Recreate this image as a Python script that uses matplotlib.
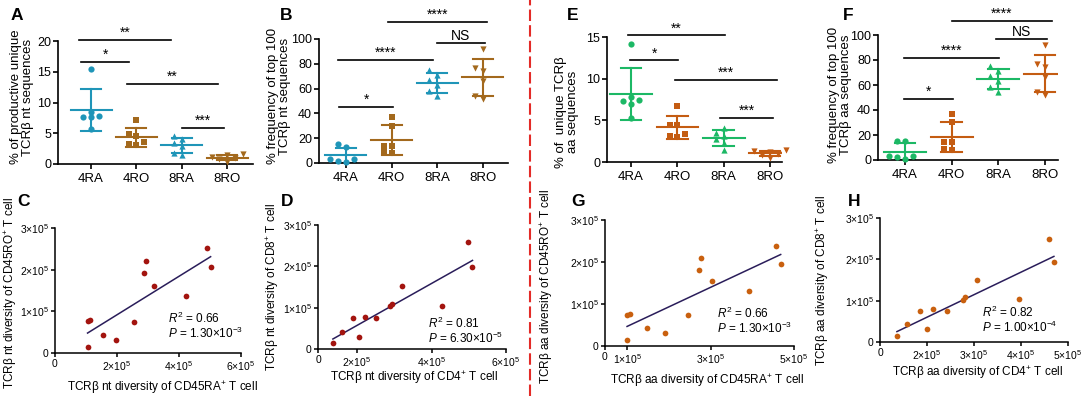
import numpy as np
import matplotlib.pyplot as plt
from matplotlib.lines import Line2D

plt.rcParams['font.family'] = ['Liberation Sans', 'DejaVu Sans']
plt.rcParams['mathtext.fontset'] = 'custom'
plt.rcParams['mathtext.rm'] = 'Liberation Sans'
plt.rcParams['mathtext.it'] = 'Liberation Sans:italic'
plt.rcParams['mathtext.bf'] = 'Liberation Sans:bold'

groups = ["4RA", "4RO", "8RA", "8RO"]

# panel A: % of productive unique TCRb nt sequences
unique_nt = [[15.5, 8.5, 7.7, 7.6, 7.8, 5.7],
             [7.2, 4.8, 4.5, 3.5, 3.1, 3.2],
             [4.6, 4.0, 3.4, 3.0, 1.8, 1.5],
             [1.6, 1.4, 1.1, 1.0, 0.8, 0.4]]
# panel B: % frequency of top 100 nt sequences
top100_nt = [[15, 13, 3, 1, 2, 3],
             [37, 30, 14, 14, 8, 9],
             [75, 71, 67, 63, 58, 54],
             [92, 77, 74, 66, 54, 52]]
# panel E: % of unique aa sequences
unique_aa = [[14.2, 7.8, 7.3, 7.0, 7.4, 5.3],
             [6.7, 4.5, 4.4, 3.4, 3.0, 3.1],
             [4.1, 3.5, 3.1, 2.8, 2.3, 1.5],
             [1.4, 1.3, 1.2, 1.0, 0.8, 0.5]]
# panel F: % frequency of top 100 aa sequences
top100_aa = [[15.5, 15.0, 3.5, 2.5, 3.5, 0.5],
             [37, 30, 14, 14, 8, 9],
             [75, 71, 67, 63, 58, 54],
             [92, 77, 74, 66, 54, 52]]

# significance bars: (x from, x to, y, label)
sig_A = [(-0.26, 1.77, 20.2, "**"), (-0.22, 0.84, 16.6, "*"),
         (0.79, 2.80, 13.0, "**"), (2.0, 2.94, 5.85, "***")]
sig_B = [(0.92, 3.09, 113.7, "****"), (1.99, 3.04, 96.8, "NS"),
         (-0.18, 1.90, 83.1, "****"), (-0.15, 1.03, 45.2, "*")]
sig_E = [(-0.06, 2.03, 15.2, "**"), (-0.02, 1.02, 12.2, "*"),
         (0.95, 3.15, 9.84, "***"), (1.92, 3.07, 5.28, "***")]
sig_F = [(1.0, 3.15, 111.2, "****"), (1.95, 3.04, 96.8, "NS"),
         (-0.02, 2.01, 81.6, "****"), (-0.02, 1.03, 48.8, "*")]

# scatter panels (diversity values)
C_x = [1.05e5, 1.07e5, 1.12e5, 1.56e5, 1.98e5, 2.55e5, 2.87e5, 2.92e5, 3.18e5, 4.22e5, 4.89e5, 5.02e5]
C_y = [0.14e5, 0.76e5, 0.79e5, 0.44e5, 0.31e5, 0.75e5, 1.91e5, 2.22e5, 1.62e5, 1.38e5, 2.52e5, 2.06e5]
D_x = [1.35e5, 1.59e5, 1.90e5, 2.04e5, 2.21e5, 2.51e5, 2.89e5, 2.93e5, 3.21e5, 4.27e5, 4.97e5, 5.10e5]
D_y = [0.14e5, 0.42e5, 0.74e5, 0.30e5, 0.78e5, 0.74e5, 1.04e5, 1.10e5, 1.53e5, 1.04e5, 2.60e5, 1.99e5]
G_x = [0.99e5, 0.99e5, 1.06e5, 1.46e5, 1.90e5, 2.46e5, 2.72e5, 2.76e5, 3.02e5, 3.93e5, 4.57e5, 4.68e5]
G_y = [0.15e5, 0.73e5, 0.77e5, 0.43e5, 0.31e5, 0.75e5, 1.82e5, 2.10e5, 1.55e5, 1.31e5, 2.38e5, 1.95e5]
H_x = [1.36e5, 1.58e5, 1.85e5, 1.99e5, 2.13e5, 2.42e5, 2.77e5, 2.80e5, 3.07e5, 3.96e5, 4.60e5, 4.70e5]
H_y = [0.14e5, 0.43e5, 0.75e5, 0.31e5, 0.79e5, 0.75e5, 1.01e5, 1.09e5, 1.50e5, 1.03e5, 2.50e5, 1.93e5]

W, H = 1084, 396

TEAL = "#1f95b8"
BROWN = "#a3691d"
GREEN = "#1cb865"
ORANGE = "#c45c12"
DARKRED = "#a3140f"
SC_ORANGE = "#c9600f"
LINE = "#2a1d5a"


def box(l, r, top, bot):
    return [l / W, 1 - bot / H, (r - l) / W, (bot - top) / H]


def ftext(px, py, s, **kw):
    fig.text(px / W, 1 - py / H, s, **kw)


def swarm(vals, span, step=0.17):
    vals = np.asarray(vals, float)
    off = np.zeros(len(vals))
    placed = []
    for i in np.argsort(vals):
        for k in [0, -1, 1, -2, 2, -3, 3]:
            o = k * step
            if all(abs(o - po) > step * 0.9 or abs(vals[i] - pv) > span for po, pv in placed):
                break
        off[i] = o
        placed.append((o, vals[i]))
    return off


def style(ax, lab=9, lw=1.2):
    for s in ['top', 'right']:
        ax.spines[s].set_visible(False)
    for s in ['left', 'bottom']:
        ax.spines[s].set_linewidth(lw)
    ax.tick_params(direction='out', length=3.5, width=lw, labelsize=lab, pad=1.5)


def dot_panel(rect, data, colors, ylim, yticks, sig, xlim):
    ax = fig.add_axes(rect)
    markers = ['o', 's', '^', 'v']
    for i, vals in enumerate(data):
        vals = np.asarray(vals, float)
        off = swarm(vals, 0.045 * ylim[1])
        ax.scatter(i + off, vals, marker=markers[i], s=20, color=colors[i],
                   linewidths=0, zorder=3, clip_on=False)
        m, sd = vals.mean(), vals.std(ddof=1)
        ax.plot([i - 0.45, i + 0.45], [m, m], color=colors[i], lw=1.5)
        ax.plot([i, i], [m - sd, m + sd], color=colors[i], lw=1.5)
        for yy in (m - sd, m + sd):
            ax.plot([i - 0.22, i + 0.22], [yy, yy], color=colors[i], lw=1.5)
    for x1, x2, y, lab in sig:
        ax.plot([x1, x2], [y, y], color='k', lw=1.2, clip_on=False)
        ax.text((x1 + x2) / 2, y, lab, ha='center', va='bottom', fontsize=10, clip_on=False)
    ax.set_xlim(xlim)
    ax.set_ylim(ylim)
    ax.set_yticks(yticks)
    ax.set_xticks(range(4))
    ax.set_xticklabels(groups)
    style(ax)
    ax.tick_params(axis='x', labelsize=9.5, pad=3)
    return ax


def sup(v):
    return "0" if v == 0 else "%d×10$^5$" % round(v / 1e5)


def scatter_panel(rect, x, y, color, xlim, xticks, r2, p, tx, ty):
    ax = fig.add_axes(rect)
    x = np.asarray(x)
    y = np.asarray(y)
    ax.scatter(x, y, s=17, color=color, linewidths=0, zorder=3)
    k, b = np.polyfit(x, y, 1)
    xs = np.array([x.min(), x.max()])
    ax.plot(xs, k * xs + b, color=LINE, lw=1.1)
    ax.set_xlim(xlim)
    ax.set_ylim(0, 3e5)
    ax.set_xticks(xticks)
    ax.set_xticklabels(["0"] + [sup(v) for v in xticks[1:]])
    ax.set_yticks([0, 1e5, 2e5, 3e5])
    ax.set_yticklabels([sup(v) for v in [0, 1e5, 2e5, 3e5]])
    style(ax, lab=7.5, lw=1.1)
    ax.tick_params(length=3)
    ax.text(tx, ty, "$R^2$ = %s" % r2, transform=ax.transAxes, fontsize=8.5, va='baseline')
    ax.text(tx, ty - 0.118, "$P$ = %s" % p, transform=ax.transAxes, fontsize=8.5, va='baseline')
    return ax


fig = plt.figure(figsize=(W / 100, H / 100), dpi=100)

# top row dot plots
dot_panel(box(58, 253, 41, 164), unique_nt, [TEAL, BROWN, TEAL, BROWN],
          (0, 20), [0, 5, 10, 15, 20], sig_A, (-0.73, 3.57))
dot_panel(box(319, 508, 39, 163), top100_nt, [TEAL, BROWN, TEAL, BROWN],
          (0, 100), [0, 20, 40, 60, 80, 100], sig_B, (-0.59, 3.55))
dot_panel(box(607, 782, 37, 162), unique_aa, [GREEN, ORANGE, GREEN, ORANGE],
          (0, 15), [0, 5, 10, 15], sig_E, (-0.52, 3.26))
dot_panel(box(878, 1058, 35, 160), top100_aa, [GREEN, ORANGE, GREEN, ORANGE],
          (0, 100), [0, 20, 40, 60, 80, 100], sig_F, (-0.58, 3.28))

# bottom row scatter plots
scatter_panel(box(55, 241, 228, 353), C_x, C_y, DARKRED, (0, 6e5),
              [0, 2e5, 4e5, 6e5], "0.66", "1.30×10$^{-3}$", 0.61, 0.24)
scatter_panel(box(318, 506, 225, 349), D_x, D_y, DARKRED, (0.95e5, 6e5),
              [0.95e5, 2e5, 4e5, 6e5], "0.81", "6.30×10$^{-5}$", 0.585, 0.17)
scatter_panel(box(605, 794, 220, 346), G_x, G_y, SC_ORANGE, (0.46e5, 5e5),
              [0.46e5, 1e5, 3e5, 5e5], "0.66", "1.30×10$^{-3}$", 0.59, 0.22)
scatter_panel(box(880, 1068, 218, 342), H_x, H_y, SC_ORANGE, (1e5, 5e5),
              [1e5, 2e5, 3e5, 4e5, 5e5], "0.82", "1.00×10$^{-4}$", 0.54, 0.20)

# y labels of the dot plots
ykw = dict(rotation=90, ha='center', va='center', fontsize=9.5, linespacing=1.0, multialignment='center')
ftext(22, 97, "% of productive unique\nTCRβ nt sequences", **ykw)
ftext(279, 96, "% frequency of top 100\nTCRβ nt sequences", **ykw)
ftext(567, 112, "% of  unique TCRβ\naa sequences", **ykw)
ftext(840, 95, "% frequency of top 100\nTCRβ aa sequences", **ykw)

# labels of the scatter plots
skw = dict(ha='center', va='center', fontsize=8.5)
ftext(11, 293, "TCRβ nt diversity of CD45RO$^{+}$ T cell", rotation=90, **skw)
ftext(273, 287, "TCRβ nt diversity of CD8$^{+}$ T cell", rotation=90, **skw)
ftext(547, 286, "TCRβ aa diversity of CD45RO$^{+}$ T cell", rotation=90, **skw)
ftext(823, 280, "TCRβ aa diversity of CD8$^{+}$ T cell", rotation=90, **skw)
ftext(162, 388, "TCRβ nt diversity of CD45RA$^{+}$ T cell", **skw)
ftext(414, 378, "TCRβ nt diversity of CD4$^{+}$ T cell", **skw)
ftext(707, 381, "TCRβ aa diversity of CD45RA$^{+}$ T cell", **skw)
ftext(978, 373, "TCRβ aa diversity of CD4$^{+}$ T cell", **skw)

# panel letters
lkw = dict(ha='center', va='center', fontsize=12.5, fontweight='bold')
for lab, px, py in [("A", 17, 15), ("B", 286, 15), ("E", 573, 15), ("F", 848, 15),
                    ("C", 24, 201), ("D", 287, 201), ("G", 578, 201), ("H", 854, 201)]:
    ftext(px, py, lab, **lkw)

# red dashed separator
fig.add_artist(Line2D([530 / W, 530 / W], [0, 1], transform=fig.transFigure,
                      color='#e32b27', lw=1.5, ls=(0, (5.5, 2))))

fig.savefig("out.png", dpi=100)
